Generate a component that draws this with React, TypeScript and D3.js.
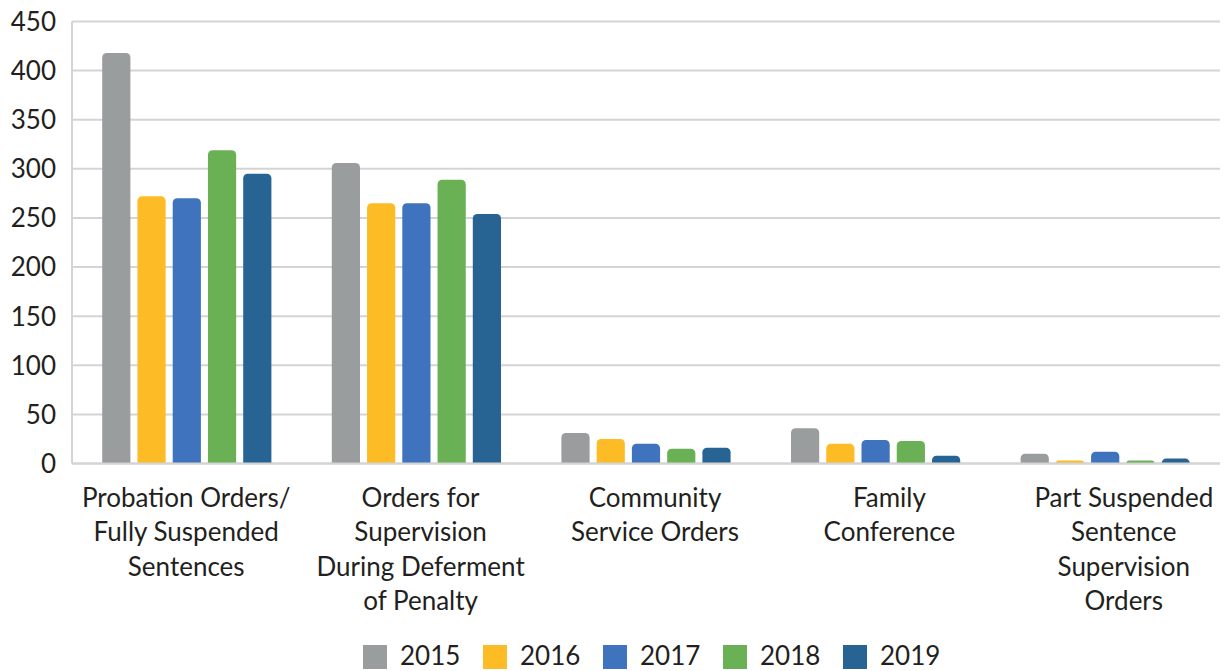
import React from "react";
import * as d3 from "d3";

const categories = [
  "Probation Orders/ Fully Suspended Sentences",
  "Orders for Supervision During Deferment of Penalty",
  "Community Service Orders",
  "Family Conference",
  "Part Suspended Sentence Supervision Orders",
];
const categoryLines = [
  ["Probation Orders/", "Fully Suspended", "Sentences"],
  ["Orders for", "Supervision", "During Deferment", "of Penalty"],
  ["Community", "Service Orders"],
  ["Family", "Conference"],
  ["Part Suspended", "Sentence", "Supervision", "Orders"],
];
const years = ["2015", "2016", "2017", "2018", "2019"];
const values2015 = [418, 306, 31, 36, 10];
const values2016 = [272, 265, 25, 20, 3];
const values2017 = [270, 265, 20, 24, 12];
const values2018 = [319, 289, 15, 23, 3];
const values2019 = [295, 254, 16, 8, 5];
const seriesValues = [values2015, values2016, values2017, values2018, values2019];
const colors = ["#9A9D9D", "#FDBC26", "#3F73BD", "#6AB156", "#276494"];
const yTicks = [0, 50, 100, 150, 200, 250, 300, 350, 400, 450];

const W = 1224;
const H = 671;
const left = 72;
const right = 1220;
const top = 21.5;
const bottom = 463.5;
const FONT = "Lato, 'Open Sans', sans-serif";

function topRounded(x: number, y: number, w: number, h: number, r: number) {
  const rr = Math.min(r, h, w / 2);
  const p = d3.path();
  p.moveTo(x, y + h);
  p.lineTo(x, y + rr);
  p.arcTo(x, y, x + rr, y, rr);
  p.lineTo(x + w - rr, y);
  p.arcTo(x + w, y, x + w, y + rr, rr);
  p.lineTo(x + w, y + h);
  p.closePath();
  return p.toString();
}

export default function App() {
  const y = d3.scaleLinear().domain([0, 450]).range([bottom, top]);
  const x0 = d3.scaleBand<number>().domain(d3.range(categories.length)).range([left, right]);
  const bw = x0.bandwidth();
  const x1 = d3
    .scaleBand<number>()
    .domain(d3.range(years.length))
    .range([bw / 2 - 84.6, bw / 2 + 84.6])
    .paddingInner(0.2);
  const xLabel = d3.scaleBand<number>().domain(d3.range(categories.length)).range([69, 1241]);

  return (
    <svg
      width={W}
      height={H}
      style={{ position: "absolute", left: 0, top: 0, background: "#fff" }}
      fontFamily={FONT}
    >
      {yTicks.map((t) => (
        <g key={t}>
          <line x1={left} x2={right} y1={y(t)} y2={y(t)} stroke="#D4D4D4" strokeWidth={2} />
          <text x={56} y={y(t)} dy="0.36em" textAnchor="end" fontSize={26} fill="#231F20">
            {t}
          </text>
        </g>
      ))}
      <line x1={left} x2={left} y1={top} y2={bottom} stroke="#D4D4D4" strokeWidth={2} />
      {categories.map((c, ci) =>
        years.map((yr, si) => {
          const v = seriesValues[si][ci];
          const bx = (x0(ci) as number) + (x1(si) as number);
          const by = y(v);
          return (
            <path
              key={c + yr}
              d={topRounded(bx, by, x1.bandwidth(), bottom - by, 4.5)}
              fill={colors[si]}
            />
          );
        })
      )}
      <line x1={left} x2={right} y1={bottom} y2={bottom} stroke="#D4D4D4" strokeWidth={2} />
      {categoryLines.map((lines, ci) => (
        <text
          key={ci}
          x={(xLabel(ci) as number) + xLabel.bandwidth() / 2}
          y={507}
          textAnchor="middle"
          fontSize={26}
          fill="#231F20"
        >
          {lines.map((ln, li) => (
            <tspan key={li} x={(xLabel(ci) as number) + xLabel.bandwidth() / 2} y={507 + li * 34.4}>
              {ln}
            </tspan>
          ))}
        </text>
      ))}
      {years.map((yr, si) => {
        const lx = 363 + si * 120;
        return (
          <g key={yr}>
            <rect x={lx} y={645} width={24} height={24} fill={colors[si]} />
            <text x={lx + 37} y={665} fontSize={26} fill="#231F20">
              {yr}
            </text>
          </g>
        );
      })}
    </svg>
  );
}
